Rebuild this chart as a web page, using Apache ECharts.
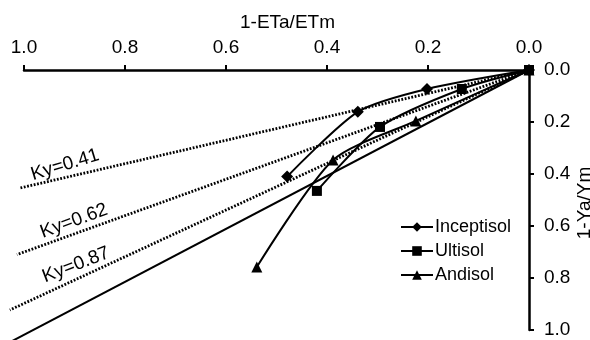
<!DOCTYPE html>
<html>
<head>
<meta charset="utf-8">
<script src="https://cdn.jsdelivr.net/npm/echarts@6/dist/echarts.min.js"></script>
<style>html,body{margin:0;padding:0;background:#fff;}#c{width:590px;height:340px;}</style>
</head>
<body>
<div id="c"></div>
<script>
// Data
const tickLabels = ['0.0', '0.2', '0.4', '0.6', '0.8', '1.0'];
const inceptisolX = [0, 0.202, 0.339, 0.479];
const inceptisolY = [0, 0.073, 0.161, 0.410];
const ultisolX = [0, 0.133, 0.295, 0.420];
const ultisolY = [0, 0.073, 0.219, 0.465];
const andisolX = [0, 0.224, 0.388, 0.539];
const andisolY = [0, 0.196, 0.346, 0.758];
// Reference lines (start and end points)
const ky041X = [0, 1.008];
const ky041Y = [0, 0.454];
const ky062X = [0, 1.014];
const ky062Y = [0, 0.710];
const ky087X = [0, 1.028];
const ky087Y = [0, 0.923];
const oneToOneX = [0, 1.08];
const oneToOneY = [0, 1.10];
const kyLabels = ['Ky=0.41', 'Ky=0.62', 'Ky=0.87'];

const zip = (xs, ys) => xs.map((x, i) => [x, ys[i]]);
const FONT = "'Liberation Sans', Arial, sans-serif";
const FS = 19;

// main plot area and an overflow area that shares the same scale
const G = { left: 24, right: 61, top: 70, bottom: 10 };
const W = 590, H = 340;
const plotW = W - G.left - G.right, plotH = H - G.top - G.bottom;
const extX = (W - G.right) / plotW;   // x value at the left image edge
const extY = (H - G.top) / plotH;     // y value at the bottom image edge

const chart = echarts.init(document.getElementById('c'));
const dotted = { color: '#000', width: 2.8, type: [1.8, 1.6], cap: 'butt' };
function refLine(xs, ys, style) {
  return {
    type: 'line', data: zip(xs, ys), symbol: 'none',
    xAxisIndex: 1, yAxisIndex: 1,
    lineStyle: style, silent: true, z: 1
  };
}
function soil(name, xs, ys, symbol, size) {
  return {
    name, type: 'line', data: zip(xs, ys), smooth: 0.25, clip: false,
    symbol, symbolSize: size, showSymbol: true,
    lineStyle: { color: '#000', width: 2 },
    itemStyle: { color: '#000' }, z: 3
  };
}
const hiddenAxis = { type: 'value', inverse: true, min: 0, show: false, splitLine: { show: false } };
const txt = (text, x, y, deg) => ({
  type: 'text', x, y, rotation: deg * Math.PI / 180,
  style: { text, fontSize: FS, fontFamily: FONT, fill: '#000', align: 'center', verticalAlign: 'middle' }
});
chart.setOption({
  animation: false,
  backgroundColor: '#fff',
  textStyle: { fontFamily: FONT },
  grid: [
    Object.assign({ outerBoundsMode: 'none', containLabel: false }, G),
    { left: 0, right: G.right, top: G.top, bottom: 0, outerBoundsMode: 'none', containLabel: false }
  ],
  xAxis: [{
    type: 'value', position: 'top', inverse: true, min: 0, max: 1, interval: 0.2, gridIndex: 0,
    name: '1-ETa/ETm', nameLocation: 'middle', nameGap: 38,
    nameTextStyle: { color: '#000', fontSize: FS, fontFamily: FONT, padding: [0, 0, 0, 22] },
    axisLine: { lineStyle: { color: '#000', width: 2.5 } },
    axisTick: { show: true, length: 5, lineStyle: { color: '#000', width: 2 } },
    axisLabel: { color: '#000', fontSize: FS, fontFamily: FONT, margin: 13,
      formatter: v => tickLabels[Math.round(v * 5)] },
    splitLine: { show: false }
  }, Object.assign({ gridIndex: 1, max: extX }, hiddenAxis)],
  yAxis: [{
    type: 'value', position: 'right', inverse: true, min: 0, max: 1, interval: 0.2, gridIndex: 0,
    axisLine: { lineStyle: { color: '#000', width: 2.5 } },
    axisTick: { show: true, length: 5, lineStyle: { color: '#000', width: 2 } },
    axisLabel: { color: '#000', fontSize: FS, fontFamily: FONT, margin: 15,
      formatter: v => tickLabels[Math.round(v * 5)] },
    splitLine: { show: false }
  }, Object.assign({ gridIndex: 1, max: extY }, hiddenAxis)],
  legend: {
    orient: 'vertical', left: 395, top: 213, itemWidth: 32, itemHeight: 12, itemGap: 6,
    data: ['Inceptisol', 'Ultisol', 'Andisol'],
    textStyle: { color: '#000', fontSize: 18, fontFamily: FONT, padding: [0, 0, 0, -3] }
  },
  series: [
    refLine(ky041X, ky041Y, dotted),
    refLine(ky062X, ky062Y, dotted),
    refLine(ky087X, ky087Y, dotted),
    refLine(oneToOneX, oneToOneY, { color: '#000', width: 2 }),
    soil('Inceptisol', inceptisolX, inceptisolY, 'diamond', 12),
    soil('Ultisol', ultisolX, ultisolY, 'rect', 10),
    soil('Andisol', andisolX, andisolY, 'triangle', 11)
  ],
  graphic: [
    txt('1-Ya/Ym', 585, 203, 90),
    txt(kyLabels[0], 65, 165, 17),
    txt(kyLabels[1], 74, 221, 20),
    txt(kyLabels[2], 76, 265, 21)
  ]
});
</script>
</body>
</html>
